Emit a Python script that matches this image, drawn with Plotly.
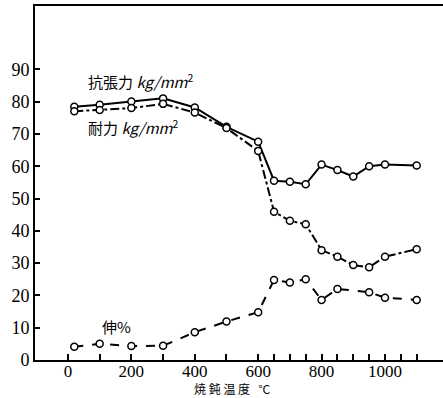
import plotly.graph_objects as go

temps_tensile = [20, 100, 200, 300, 400, 500, 600, 650, 700, 750, 800, 850, 900, 950, 1000, 1100]
tensile = [78.4, 79, 80, 81, 78.2, 72.2, 67.6, 55.5, 55.2, 54.4, 60.5, 58.8, 56.8, 60, 60.5, 60.2]

temps_yield = [20, 100, 200, 300, 400, 500, 600, 650, 700, 750, 800, 850, 900, 950, 1000, 1100]
yield_strength = [77, 77.4, 78, 79.3, 76.6, 71.8, 64.7, 45.9, 43.1, 42, 34, 32, 29.4, 28.7, 32, 34.3]

temps_elong = [20, 100, 200, 300, 400, 500, 600, 650, 700, 750, 800, 850, 950, 1000, 1100]
elongation = [4.1, 5, 4.3, 4.4, 8.6, 11.9, 14.8, 24.8, 24, 25, 18.6, 22, 21, 19.3, 18.6]

x_major_ticks = [0, 200, 400, 600, 800, 1000]
x_minor_ticks = [100, 300, 500, 650, 700, 750, 850, 900, 950, 1050, 1100]
y_tickvals = [0, 10, 20, 30, 40, 50, 60, 70, 80, 90]

marker = dict(symbol="circle", size=7, color="white", line=dict(color="black", width=1.5))

fig = go.Figure()
fig.add_trace(go.Scatter(x=temps_tensile, y=tensile, mode="lines+markers",
                         line=dict(color="black", width=2, dash="solid"), marker=marker))
fig.add_trace(go.Scatter(x=temps_yield, y=yield_strength, mode="lines+markers",
                         line=dict(color="black", width=2, dash="dashdot"), marker=marker))
fig.add_trace(go.Scatter(x=temps_elong, y=elongation, mode="lines+markers",
                         line=dict(color="black", width=2, dash="dash"), marker=marker))

cjk = "Noto Sans CJK JP"
serif = "Liberation Serif"

fig.add_annotation(x=57, y=86.5, xref="x", yref="y", xanchor="left", yanchor="middle", showarrow=False,
                   text="抗張力 <i>kg/mm</i><sup>2</sup>", font=dict(family=cjk, size=15, color="black"))
fig.add_annotation(x=57, y=72.0, xref="x", yref="y", xanchor="left", yanchor="middle", showarrow=False,
                   text="耐力 <i>kg/mm</i><sup>2</sup>", font=dict(family=cjk, size=15, color="black"))
fig.add_annotation(x=100, y=10.3, xref="x", yref="y", xanchor="left", yanchor="middle", showarrow=False,
                   text="伸%", font=dict(family=cjk, size=15, color="black"))
fig.add_annotation(x=(232 - 35) / 408, y=(360 - 399) / 354, xref="paper", yref="paper",
                   xanchor="center", yanchor="bottom", showarrow=False,
                   text="焼 鈍 温 度   °C", font=dict(family=cjk, size=12, color="black"))

fig.update_layout(
    width=443, height=398,
    margin=dict(l=35, r=0, t=6, b=38),
    paper_bgcolor="white", plot_bgcolor="white",
    showlegend=False,
    xaxis=dict(range=[-104, 1183], tickvals=x_major_ticks,
               ticktext=[str(v) for v in x_major_ticks],
               ticks="inside", ticklen=6, tickwidth=1.5, tickcolor="black",
               ticklabelstandoff=-5,
               minor=dict(tickvals=x_minor_ticks, ticks="inside", ticklen=6,
                          tickwidth=1.5, tickcolor="black", showgrid=False),
               showline=True, linecolor="black", linewidth=2, mirror=True,
               showgrid=False, zeroline=False,
               tickfont=dict(family=serif, size=17, color="black")),
    yaxis=dict(range=[0, 109.6], tickvals=y_tickvals,
               ticks="inside", ticklen=5, tickwidth=1.5, tickcolor="black",
               showline=True, linecolor="black", linewidth=2,
               showgrid=False, zeroline=False,
               tickfont=dict(family=serif, size=18, color="black")),
)

fig.write_html("out.html")
